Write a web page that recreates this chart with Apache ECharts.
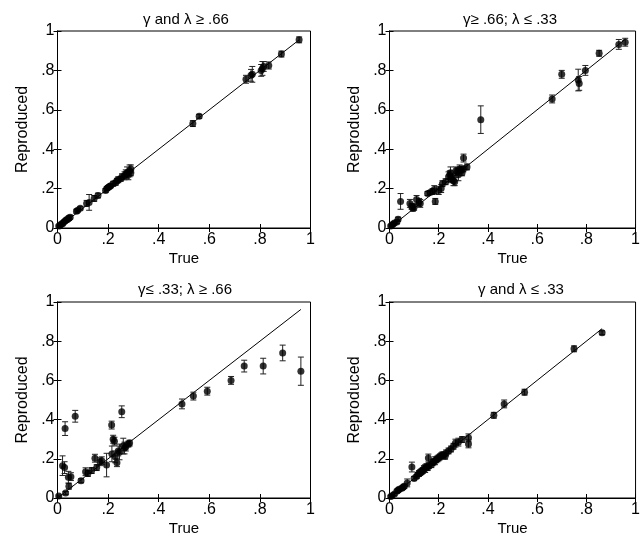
<!DOCTYPE html>
<html><head><meta charset="utf-8">
<script src="https://cdn.jsdelivr.net/npm/echarts@6/dist/echarts.min.js"></script>
<style>html,body{margin:0;padding:0;background:#fff}#c{width:643px;height:545px}</style>
</head><body><div id="c"></div>
<script>
const tickLabels = ['0', '.2', '.4', '.6', '.8', '1'];
const titles = ['\u03b3 and \u03bb \u2265 .66', '\u03b3\u2265 .66; \u03bb \u2264 .33', '\u03b3\u2264 .33; \u03bb \u2265 .66', '\u03b3 and \u03bb \u2264 .33'];

const tlTrue = [0.005,0.01,0.015,0.02,0.025,0.03,0.035,0.04,0.045,0.05, 0.075,0.08,0.09, 0.115,0.125,0.145,0.16, 0.19,0.195,0.2,0.205,0.21,0.22,0.23,0.235,0.24,0.25,0.255, 0.265,0.27,0.275,0.28,0.285,0.29,0.29, 0.535,0.56, 0.745,0.765,0.77,0.805,0.81,0.815,0.835,0.885,0.955];
const tlRepro = [0.01,0.012,0.02,0.022,0.03,0.035,0.04,0.045,0.05,0.055, 0.085,0.09,0.1, 0.125,0.13,0.15,0.165, 0.19,0.2,0.205,0.21,0.215,0.225,0.23,0.24,0.245,0.25,0.26, 0.265,0.275,0.28,0.27,0.29,0.3,0.28, 0.53,0.567, 0.755,0.775,0.78,0.8,0.81,0.82,0.825,0.883,0.955];
const tlErr = [0.005,0.005,0.005,0.008,0.008,0.008,0.01,0.01,0.012,0.01, 0.01,0.008,0.008, 0.015,0.04,0.015,0.012, 0.01,0.01,0.01,0.01,0.01,0.012,0.012,0.012,0.015,0.012,0.015, 0.02,0.02,0.03,0.025,0.03,0.02,0.015, 0.015,0.01, 0.02,0.03,0.04,0.03,0.035,0.025,0.018,0.015,0.015];

const trTrue = [0.005,0.01,0.015,0.02,0.03,0.035, 0.045,0.083,0.09,0.095,0.1,0.11,0.12,0.125, 0.155,0.165,0.175,0.182,0.186,0.2,0.21,0.215,0.228, 0.24,0.245,0.248,0.25,0.255,0.26,0.265,0.27,0.275,0.28,0.285,0.29,0.295,0.3,0.301,0.315, 0.371, 0.661,0.70,0.767,0.771,0.796,0.852,0.932,0.958];
const trRepro = [0.01,0.015,0.02,0.025,0.03,0.045, 0.135,0.125,0.11,0.1,0.105,0.145,0.13,0.125, 0.175,0.18,0.185,0.195,0.135,0.19,0.2,0.225,0.235, 0.26,0.27,0.28,0.25,0.255,0.24,0.235,0.29,0.285,0.27,0.3,0.295,0.28,0.3,0.355,0.31, 0.55, 0.655,0.78,0.751,0.734,0.8,0.887,0.932,0.943];
const trErr = [0.005,0.005,0.005,0.005,0.008,0.01, 0.04,0.02,0.015,0.015,0.015,0.02,0.02,0.02, 0.01,0.01,0.015,0.02,0.015,0.02,0.02,0.015,0.015, 0.025,0.02,0.03,0.02,0.02,0.025,0.02,0.02,0.02,0.03,0.02,0.015,0.015,0.015,0.02,0.015, 0.07, 0.02,0.02,0.055,0.035,0.025,0.015,0.025,0.02];

const blTrue = [0.005,0.02,0.028,0.03,0.032,0.043,0.045,0.053,0.07, 0.093,0.111,0.12,0.135,0.148,0.155,0.168,0.175,0.194, 0.214,0.215,0.22,0.225,0.228,0.235,0.24,0.245,0.254,0.26,0.265,0.27,0.28,0.285, 0.492,0.537,0.592,0.686,0.738,0.813,0.89,0.962];
const blRepro = [0.01,0.165,0.155,0.354,0.025,0.106,0.06,0.109,0.417, 0.088,0.134,0.125,0.14,0.203,0.155,0.185,0.19,0.168, 0.372,0.225,0.30,0.29,0.21,0.18,0.24,0.235,0.44,0.265,0.255,0.26,0.275,0.28, 0.48,0.52,0.545,0.60,0.673,0.673,0.74,0.647];
const blErr = [0.005,0.05,0.03,0.035,0.008,0.03,0.015,0.02,0.03, 0.01,0.02,0.015,0.015,0.02,0.015,0.02,0.02,0.06, 0.02,0.04,0.02,0.02,0.03,0.02,0.025,0.04,0.03,0.04,0.03,0.02,0.015,0.015, 0.025,0.02,0.02,0.02,0.03,0.04,0.04,0.072];

const brTrue = [0.005,0.01,0.02,0.03,0.035,0.04,0.05,0.055,0.06,0.072,0.091, 0.1,0.11,0.115,0.12,0.125,0.13,0.135,0.14,0.145,0.15,0.155,0.158,0.16,0.17,0.175,0.18,0.185,0.19,0.195,0.2,0.205,0.21,0.215,0.22,0.226,0.23,0.24,0.25,0.26,0.268,0.28,0.295,0.321,0.321, 0.424,0.466,0.549,0.75,0.864];
const brRepro = [0.008,0.012,0.02,0.035,0.04,0.045,0.05,0.055,0.06,0.077,0.158, 0.1,0.11,0.12,0.125,0.13,0.135,0.14,0.15,0.15,0.16,0.155,0.204,0.165,0.17,0.18,0.185,0.19,0.195,0.2,0.205,0.21,0.215,0.22,0.22,0.213,0.23,0.24,0.25,0.264,0.28,0.285,0.298,0.307,0.276, 0.422,0.48,0.54,0.761,0.843];
const brErr = [0.005,0.005,0.008,0.01,0.01,0.01,0.01,0.01,0.01,0.02,0.025, 0.01,0.01,0.01,0.015,0.015,0.015,0.015,0.015,0.02,0.015,0.015,0.02,0.015,0.015,0.015,0.015,0.02,0.015,0.015,0.015,0.015,0.015,0.015,0.015,0.015,0.015,0.015,0.015,0.015,0.02,0.02,0.015,0.02,0.02, 0.015,0.02,0.015,0.015,0.01];

const panels = [[tlTrue, tlRepro, tlErr], [trTrue, trRepro, trErr], [blTrue, blRepro, blErr], [brTrue, brRepro, brErr]];
const gridPos = [
  {left: 57.5, top: 31, width: 253, height: 197},
  {left: 389.5, top: 31, width: 254, height: 197},
  {left: 57.5, top: 302, width: 253, height: 196},
  {left: 389.5, top: 302, width: 254, height: 196}
];
const titleCenters = [[181, 7], [505, 7], [180, 277], [516, 277]];

const FONT = 'Liberation Sans, Arial, sans-serif';
const fs = 16;
const fmt = v => { const i = Math.round(v * 5); return tickLabels[i] !== undefined ? tickLabels[i] : ''; };

const grids = [], xAxes = [], yAxes = [], series = [], titleArr = [];
gridPos.forEach((g, i) => {
  grids.push(Object.assign({show: true, borderColor: '#000', borderWidth: 1, backgroundColor: '#fff', containLabel: false}, g));
  titleArr.push({text: titles[i], left: titleCenters[i][0], top: titleCenters[i][1], textAlign: 'center',
    textStyle: {fontFamily: FONT, fontSize: 15, fontWeight: 'normal', color: '#000'}});
});
for (let i = 0; i < 4; i++) {
  xAxes.push({type: 'value', gridIndex: i, min: 0, max: 1, interval: 0.2, position: 'bottom',
    name: 'True', nameLocation: 'middle', nameGap: 23,
    nameTextStyle: {fontFamily: FONT, fontSize: 15, color: '#000'},
    axisLine: {show: true, lineStyle: {color: '#000', width: 1}},
    axisTick: {show: true, inside: true, length: 4, lineStyle: {color: '#000'}},
    axisLabel: {formatter: fmt, fontFamily: FONT, fontSize: fs, color: '#000', margin: 4},
    splitLine: {show: false}});
  yAxes.push({type: 'value', gridIndex: i, min: 0, max: 1, interval: 0.2, position: 'left',
    name: 'Reproduced', nameLocation: 'middle', nameGap: 27, nameRotate: 90,
    nameTextStyle: {fontFamily: FONT, fontSize: 16, color: '#000'},
    axisLine: {show: true, lineStyle: {color: '#000', width: 1}},
    axisTick: {show: true, inside: true, length: 4, lineStyle: {color: '#000'}},
    axisLabel: {formatter: fmt, fontFamily: FONT, fontSize: fs, color: '#000', margin: 3},
    splitLine: {show: false}});
}
for (let i = 0; i < 4; i++) {
  xAxes.push({type: 'value', gridIndex: i, min: 0, max: 1, interval: 0.2, position: 'top',
    axisLine: {show: true, lineStyle: {color: '#000'}},
    axisTick: {show: true, inside: true, length: 4, lineStyle: {color: '#000'}},
    axisLabel: {show: false}, splitLine: {show: false}});
  yAxes.push({type: 'value', gridIndex: i, min: 0, max: 1, interval: 0.2, position: 'right',
    axisLine: {show: true, lineStyle: {color: '#000'}},
    axisTick: {show: true, inside: true, length: 4, lineStyle: {color: '#000'}},
    axisLabel: {show: false}, splitLine: {show: false}});
}

panels.forEach((p, i) => {
  const [tx, ry, er] = p;
  const n = Math.min(tx.length, ry.length, er.length);
  const mx = Math.max.apply(null, tx);
  series.push({type: 'line', xAxisIndex: i, yAxisIndex: i, data: [[0, 0], [mx, mx]],
    symbol: 'none', lineStyle: {color: '#000', width: 1}, z: 1, silent: true});
  const ebData = [], ptData = [];
  for (let k = 0; k < n; k++) { ebData.push([tx[k], ry[k], er[k]]); ptData.push([tx[k], ry[k]]); }
  series.push({type: 'custom', xAxisIndex: i, yAxisIndex: i, data: ebData, z: 2, silent: true,
    renderItem: (params, api) => {
      const x = api.value(0), y = api.value(1), e = api.value(2);
      const lo = api.coord([x, y - e]), hi = api.coord([x, y + e]);
      const w = 3;
      const st = {stroke: '#222', lineWidth: 1};
      return {type: 'group', children: [
        {type: 'line', shape: {x1: lo[0], y1: lo[1], x2: hi[0], y2: hi[1]}, style: st},
        {type: 'line', shape: {x1: lo[0] - w, y1: lo[1], x2: lo[0] + w, y2: lo[1]}, style: st},
        {type: 'line', shape: {x1: hi[0] - w, y1: hi[1], x2: hi[0] + w, y2: hi[1]}, style: st}
      ]};
    }});
  series.push({type: 'scatter', xAxisIndex: i, yAxisIndex: i, data: ptData, symbol: 'circle', symbolSize: 7,
    itemStyle: {color: '#000'}, z: 3, silent: true});
});

const chart = echarts.init(document.getElementById('c'), null, {renderer: 'canvas'});
chart.setOption({animation: false, backgroundColor: '#fff', title: titleArr, grid: grids, xAxis: xAxes, yAxis: yAxes, series: series});
</script></body></html>
